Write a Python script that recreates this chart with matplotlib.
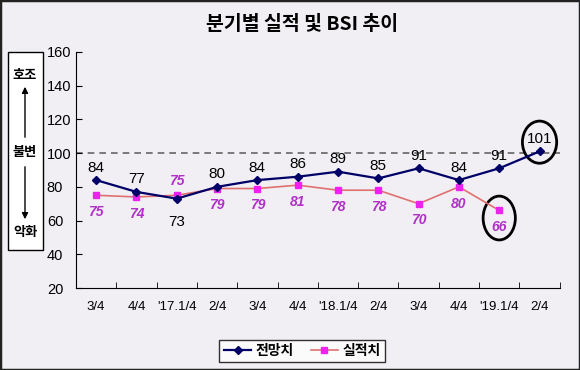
import matplotlib.pyplot as plt
from matplotlib.patches import Ellipse, Rectangle, FancyArrowPatch

plt.rcParams['font.family'] = ['Noto Sans CJK KR', 'DejaVu Sans']
NUM_FONT = ['Liberation Sans Narrow', 'Liberation Sans', 'DejaVu Sans']

quarters = ["3/4", "4/4", "'17.1/4", "2/4", "3/4", "4/4", "'18.1/4", "2/4",
            "3/4", "4/4", "'19.1/4", "2/4"]
forecast = [84, 77, 73, 80, 84, 86, 89, 85, 91, 84, 91, 101]
actual = [75, 74, 75, 79, 79, 81, 78, 78, 70, 80, 66]

BG = "#F1EFF4"
NAVY = "#000066"
MAGENTA = "#EE22EE"
LABEL_MAG = "#B030C8"

fig = plt.figure(figsize=(5.8, 3.7), dpi=100, facecolor=BG)
ax = fig.add_axes([0.131, 0.2216, 0.834, 0.638])
ax.set_facecolor(BG)

x = list(range(len(quarters)))
ax.axhline(100, color="#666666", ls=(0, (4, 3)), lw=1.2, zorder=1)
ax.plot(x, forecast, color=NAVY, lw=1.6, marker="D", ms=4.5, label="전망치", zorder=3)
ax.plot(x[:len(actual)], actual, color="#E07070", lw=1.2, marker="s", ms=5,
        mfc=MAGENTA, mec=MAGENTA, label="실적치", zorder=2)

for i, v in enumerate(forecast):
    dy = -17 if i == 2 else 9
    ax.annotate(str(v), (i, v), xytext=(0, dy), textcoords="offset points",
                ha="center", va="center", fontsize=11, color="black", family=NUM_FONT)
for i, v in enumerate(actual):
    dy = 10 if i == 2 else -12
    ax.annotate(str(v), (i, v), xytext=(0, dy), textcoords="offset points",
                ha="center", va="center", fontsize=10, color=LABEL_MAG,
                style="italic", fontweight="bold", family=NUM_FONT)

# circles around the latest values
ax.add_patch(Ellipse((11, forecast[11] + 5.5), 0.85, 25, fill=False, lw=2, color="black", clip_on=False))
ax.add_patch(Ellipse((10, actual[10] - 4.5), 0.8, 26, fill=False, lw=2, color="black", clip_on=False))

ax.set_xlim(-0.5, 11.5)
ax.set_ylim(20, 160)
ax.set_yticks(range(20, 161, 20))
ax.set_xticks(x)
ax.set_xticklabels(quarters, family=NUM_FONT)
ax.set_xticks([i + 0.5 for i in range(-1, 12)], minor=True)
ax.tick_params(axis="x", which="major", length=0, pad=9, labelsize=9.5)
ax.tick_params(axis="x", which="minor", direction="in", length=4)
ax.tick_params(axis="y", direction="in", length=4, pad=21, labelsize=10.5)
for lbl in ax.get_yticklabels():
    lbl.set_horizontalalignment("left")
    lbl.set_family(NUM_FONT)
ax.spines["top"].set_visible(False)
ax.spines["right"].set_visible(False)

fig.text(0.52, 0.935, "분기별 실적 및 BSI 추이", ha="center", va="center",
         fontsize=14, fontweight="bold")

# side indicator box
fig.add_artist(Rectangle((8 / 580, 1 - 250 / 370), 35 / 580, 198 / 370,
                         transform=fig.transFigure, fill=True, fc="white",
                         ec="black", lw=1))
for label, ypx in [("호조", 75), ("불변", 152), ("악화", 232)]:
    fig.text(25 / 580, 1 - ypx / 370, label, ha="center", va="center",
             fontsize=9.5, fontweight="bold")
for y0, y1 in [(140, 84), (164, 222)]:
    fig.add_artist(FancyArrowPatch((25 / 580, 1 - y0 / 370), (25 / 580, 1 - y1 / 370),
                                   transform=fig.transFigure, arrowstyle="-|>",
                                   mutation_scale=9, color="black", lw=1, zorder=5))

leg = fig.legend(loc="center", bbox_to_anchor=(0.521, 0.051), ncol=2, frameon=True,
                 fancybox=False, edgecolor="black", facecolor="white",
                 prop={"size": 10, "weight": "bold"}, markerscale=0.8,
                 handlelength=2.0, handletextpad=0.3, columnspacing=1.2, borderpad=0.3)
leg.get_frame().set_linewidth(1)

fig.add_artist(Rectangle((0, 0), 1, 1, transform=fig.transFigure, fill=False,
                         ec="#222222", lw=2.5))

fig.savefig("out.png", dpi=100, facecolor=BG)
